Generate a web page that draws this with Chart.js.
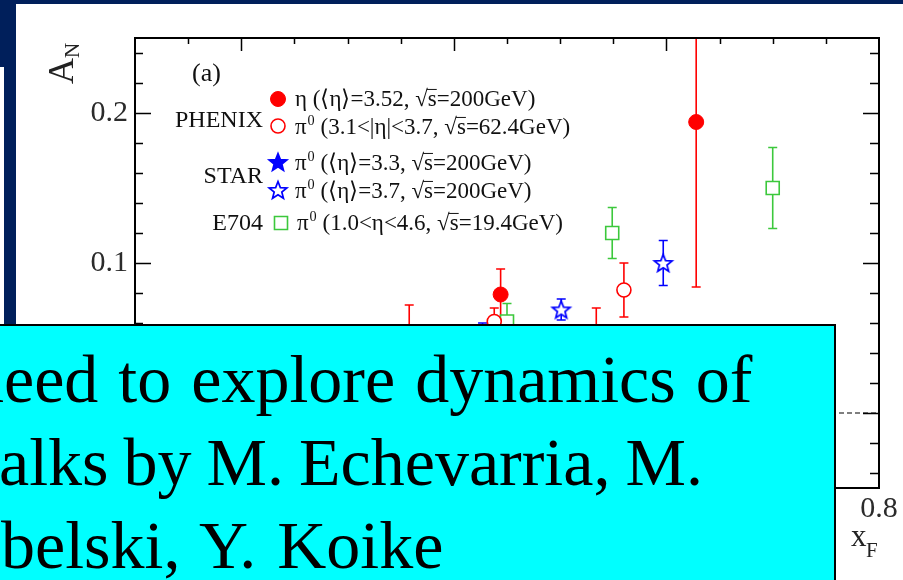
<!DOCTYPE html>
<html>
<head>
<meta charset="utf-8">
<script src="https://cdn.jsdelivr.net/npm/chart.js@4.4.0/dist/chart.umd.min.js"></script>
<style>
  html, body { margin: 0; padding: 0; background: #fff; overflow: hidden; }
  #page { position: relative; width: 903px; height: 580px; overflow: hidden; background: #fff; }
  #c { position: absolute; left: 0; top: 0; }
  .navy { position: absolute; background: #001f5b; }
  #note {
    position: absolute; left: -6px; top: 324px; width: 842px; height: 300px;
    background: #00ffff; border: 2px solid #000; box-sizing: border-box; overflow: hidden;
    font-family: "Liberation Serif", "Times New Roman", serif; font-size: 68px; color: #000;
  }
  .ln { position: absolute; white-space: nowrap; line-height: 68px; }
</style>
</head>
<body>
<div id="page">
  <canvas id="c" width="903" height="580"></canvas>
  <div class="navy" style="left:0;top:0;width:903px;height:4px"></div>
  <div class="navy" style="left:0;top:0;width:16px;height:67px"></div>
  <div class="navy" style="left:4px;top:67px;width:12px;height:260px"></div>
  <div id="note">
    <div class="ln" style="left:-26px;top:19px;word-spacing:3px">need to explore dynamics of</div>
    <div class="ln" style="left:3px;top:102px;word-spacing:-2px">alks by M. Echevarria, M.</div>
    <div class="ln" style="left:5px;top:185px;word-spacing:4px">belski, Y. Koike</div>
  </div>
</div>
<script>
// axis ranges and tick labels
const xMin = 0.1, xMax = 0.8;
const yMin = -0.05, yMax = 0.25;
const xTickLabels = [0.2, 0.4, 0.6, 0.8];
const yTickLabels = [0, 0.1, 0.2];

// PHENIX eta, <eta>=3.52, sqrt(s)=200 GeV
const phenixEtaX   = [0.358, 0.444, 0.628];
const phenixEtaY   = [0.040, 0.079, 0.194];
const phenixEtaErr = [0.032, 0.017, 0.110];

// PHENIX pi0, 3.1<|eta|<3.7, sqrt(s)=62.4 GeV
const phenixPi0X   = [0.438, 0.534, 0.560];
const phenixPi0Y   = [0.061, 0.045, 0.082];
const phenixPi0Err = [0.009, 0.025, 0.018];

// STAR pi0, <eta>=3.3 and <eta>=3.7, sqrt(s)=200 GeV
const star33X   = [0.427];
const star33Y   = [0.035];
const star33Err = [0.025];
const star37X   = [0.501, 0.597];
const star37Y   = [0.069, 0.100];
const star37Err = [0.007, 0.015];

// E704 pi0, 1.0<eta<4.6, sqrt(s)=19.4 GeV
const e704X   = [0.450, 0.549, 0.700];
const e704Y   = [0.061, 0.120, 0.150];
const e704Err = [0.012, 0.017, 0.027];

const RED = '#ff0000', BLUE = '#0000ff', GREEN = '#3cc83c';
const SERIF = '"Liberation Serif", "Times New Roman", serif';

function pts(xs, ys, es) {
  return xs.map((x, i) => ({ x: x, y: ys[i], err: es[i] }));
}

// five pointed star marker, Chart.js only has an asterisk one
function starCanvas(filled) {
  const s = 24, c = document.createElement('canvas');
  c.width = c.height = s;
  const g = c.getContext('2d');
  g.beginPath();
  for (let i = 0; i < 10; i++) {
    const r = i % 2 ? 4 : 9.3;
    const a = -Math.PI / 2 + i * Math.PI / 5;
    const px = s / 2 + r * Math.cos(a), py = s / 2 + 0.8 + r * Math.sin(a);
    if (i) g.lineTo(px, py); else g.moveTo(px, py);
  }
  g.closePath();
  g.fillStyle = filled ? BLUE : '#fff';
  g.fill();
  g.lineWidth = 1.7;
  g.strokeStyle = BLUE;
  g.stroke();
  return c;
}
const starFull = starCanvas(true);
const starOpen = starCanvas(false);

const datasets = [
  { label: 'phenixEta', data: pts(phenixEtaX, phenixEtaY, phenixEtaErr), color: RED,
    pointStyle: 'circle', pointRadius: 7.5, backgroundColor: RED, borderColor: RED, borderWidth: 1 },
  { label: 'phenixPi0', data: pts(phenixPi0X, phenixPi0Y, phenixPi0Err), color: RED,
    pointStyle: 'circle', pointRadius: 7, backgroundColor: '#fff', borderColor: RED, borderWidth: 1.6 },
  { label: 'star33', data: pts(star33X, star33Y, star33Err), color: BLUE,
    pointStyle: starFull, pointRadius: 9 },
  { label: 'star37', data: pts(star37X, star37Y, star37Err), color: BLUE,
    pointStyle: starOpen, pointRadius: 9 },
  { label: 'e704', data: pts(e704X, e704Y, e704Err), color: GREEN,
    pointStyle: 'rect', pointRadius: 9.2, backgroundColor: '#fff', borderColor: GREEN, borderWidth: 1.6 }
];

// small rich-text writer for the legend (superscript 0, sqrt with bar)
function rich(ctx, x, y, parts, size) {
  ctx.textBaseline = 'alphabetic';
  ctx.textAlign = 'left';
  parts.forEach(p => {
    if (p.sup) {
      ctx.font = (size * 0.62) + 'px ' + SERIF;
      ctx.fillText(p.t, x + 1, y - size * 0.38);
      x += ctx.measureText(p.t).width + 1;
    } else if (p.sqrt) {
      ctx.font = size + 'px ' + SERIF;
      ctx.fillText('\u221a', x, y);
      const w = ctx.measureText('\u221a').width;
      ctx.fillText('s', x + w, y);
      const sw = ctx.measureText('s').width;
      ctx.save();
      ctx.lineWidth = 1;
      ctx.strokeStyle = ctx.fillStyle;
      ctx.beginPath();
      ctx.moveTo(x + w - 1, y - size * 0.72);
      ctx.lineTo(x + w + sw, y - size * 0.72);
      ctx.stroke();
      ctx.restore();
      x += w + sw;
    } else {
      ctx.font = size + 'px ' + SERIF;
      ctx.fillText(p.t, x, y);
      x += ctx.measureText(p.t).width;
    }
  });
}

const decorPlugin = {
  id: 'decor',
  beforeDatasetsDraw(chart) {
    const ctx = chart.ctx, a = chart.chartArea;
    const xs = chart.scales.x, ys = chart.scales.y;
    ctx.save();
    ctx.beginPath();
    ctx.rect(a.left, a.top, a.right - a.left, a.bottom - a.top);
    ctx.clip();
    // zero line
    const y0 = ys.getPixelForValue(0);
    ctx.strokeStyle = '#000';
    ctx.lineWidth = 1.2;
    ctx.setLineDash([5, 3]);
    ctx.beginPath();
    ctx.moveTo(a.left, y0);
    ctx.lineTo(a.right, y0);
    ctx.stroke();
    ctx.setLineDash([]);
    // error bars
    chart.data.datasets.forEach(ds => {
      ctx.strokeStyle = ds.color;
      ctx.lineWidth = 1.6;
      ds.data.forEach(p => {
        const px = xs.getPixelForValue(p.x);
        const pt = ys.getPixelForValue(p.y + p.err);
        const pb = ys.getPixelForValue(p.y - p.err);
        ctx.beginPath();
        ctx.moveTo(px, pt); ctx.lineTo(px, pb);
        ctx.moveTo(px - 4.5, pt); ctx.lineTo(px + 4.5, pt);
        ctx.moveTo(px - 4.5, pb); ctx.lineTo(px + 4.5, pb);
        ctx.stroke();
      });
    });
    ctx.restore();
  },
  afterDraw(chart) {
    const ctx = chart.ctx, a = chart.chartArea;
    const xs = chart.scales.x, ys = chart.scales.y;
    ctx.save();
    ctx.strokeStyle = '#000';
    ctx.lineWidth = 1.5;
    // inward ticks
    ctx.beginPath();
    for (let i = 3; i <= 15; i++) {
      const v = i * 0.05;
      if (v <= xMin + 1e-9 || v >= xMax - 1e-9) continue;
      const px = Math.round(xs.getPixelForValue(v)) + 0.5;
      const major = i % 4 === 0;
      ctx.moveTo(px, a.top); ctx.lineTo(px, a.top + (major ? 13 : 6));
      ctx.moveTo(px, a.bottom); ctx.lineTo(px, a.bottom - (major ? 13 : 6));
    }
    for (let i = -2; i <= 12; i++) {
      const v = i * 0.02;
      const py = Math.round(ys.getPixelForValue(v)) + 0.5;
      const major = i % 5 === 0;
      ctx.moveTo(a.left, py); ctx.lineTo(a.left + (major ? 16 : 8), py);
      ctx.moveTo(a.right, py); ctx.lineTo(a.right - (major ? 16 : 9), py);
    }
    ctx.stroke();
    // frame
    ctx.lineWidth = 2;
    ctx.strokeRect(a.left, a.top, a.right - a.left, a.bottom - a.top);

    // axis titles
    ctx.fillStyle = '#222';
    ctx.save();
    ctx.translate(73, 84);
    ctx.rotate(-Math.PI / 2);
    ctx.font = '36px ' + SERIF;
    ctx.textBaseline = 'alphabetic';
    ctx.fillText('A', 0, 0);
    const aw = ctx.measureText('A').width;
    ctx.font = '21px ' + SERIF;
    ctx.fillText('N', aw, 6);
    ctx.restore();
    ctx.font = '31px ' + SERIF;
    ctx.fillText('x', 851, 546);
    ctx.font = '21px ' + SERIF;
    ctx.fillText('F', 866, 557);

    // legend
    ctx.fillStyle = '#111';
    ctx.font = '26px ' + SERIF;
    ctx.textAlign = 'left';
    ctx.textBaseline = 'alphabetic';
    ctx.fillText('(a)', 192, 81);
    ctx.textAlign = 'right';
    ctx.font = '24px ' + SERIF;
    ctx.fillText('PHENIX', 263, 127);
    ctx.fillText('STAR', 263, 183);
    ctx.fillText('E704', 263, 230);

    const H = Chart.helpers;
    const mk = (ds, x, y) => {
      ctx.save();
      ctx.fillStyle = ds.backgroundColor || '#fff';
      ctx.strokeStyle = ds.borderColor || ds.color;
      ctx.lineWidth = ds.borderWidth || 1;
      H.drawPoint(ctx, { pointStyle: ds.pointStyle, radius: ds.pointRadius, rotation: 0, borderWidth: ds.borderWidth || 1 }, x, y);
      ctx.restore();
    };
    const d = chart.data.datasets;
    mk(d[0], 278, 99);
    mk(d[1], 278, 126);
    mk(d[2], 278, 162);
    mk(d[3], 278, 190);
    mk(d[4], 281, 223);

    ctx.fillStyle = '#111';
    const fs = 23;
    rich(ctx, 295, 106, [{ t: '\u03b7 (\u27e8\u03b7\u27e9=3.52, ' }, { sqrt: true }, { t: '=200GeV)' }], fs);
    rich(ctx, 295, 134, [{ t: '\u03c0' }, { t: '0', sup: true }, { t: ' (3.1<|\u03b7|<3.7, ' }, { sqrt: true }, { t: '=62.4GeV)' }], fs);
    rich(ctx, 295, 170, [{ t: '\u03c0' }, { t: '0', sup: true }, { t: ' (\u27e8\u03b7\u27e9=3.3, ' }, { sqrt: true }, { t: '=200GeV)' }], fs);
    rich(ctx, 295, 198, [{ t: '\u03c0' }, { t: '0', sup: true }, { t: ' (\u27e8\u03b7\u27e9=3.7, ' }, { sqrt: true }, { t: '=200GeV)' }], fs);
    rich(ctx, 297, 230, [{ t: '\u03c0' }, { t: '0', sup: true }, { t: ' (1.0<\u03b7<4.6, ' }, { sqrt: true }, { t: '=19.4GeV)' }], fs);
    ctx.restore();
  }
};

new Chart(document.getElementById('c').getContext('2d'), {
  type: 'scatter',
  data: { datasets: datasets },
  options: {
    responsive: false,
    animation: false,
    events: [],
    layout: { padding: { left: 0, top: 38, right: 24, bottom: 0 } },
    plugins: { legend: { display: false }, tooltip: { enabled: false } },
    scales: {
      x: {
        type: 'linear', min: xMin, max: xMax, position: 'bottom',
        grid: { display: false, drawTicks: false },
        border: { display: false },
        afterBuildTicks: s => { s.ticks = xTickLabels.map(v => ({ value: v })); },
        afterFit: s => { s.height = 92; },
        ticks: { padding: 3, maxRotation: 0, autoSkip: false, color: '#2b2b2b',
                 font: { family: SERIF, size: 30 }, callback: v => v.toFixed(1) }
      },
      y: {
        type: 'linear', min: yMin, max: yMax,
        grid: { display: false, drawTicks: false },
        border: { display: false },
        afterBuildTicks: s => { s.ticks = yTickLabels.map(v => ({ value: v })); },
        afterFit: s => { s.width = 135; },
        ticks: { padding: 7, autoSkip: false, color: '#2b2b2b',
                 font: { family: SERIF, size: 30 }, callback: v => (v === 0 ? '0' : v.toFixed(1)) }
      }
    }
  },
  plugins: [decorPlugin]
});
</script>
</body>
</html>
